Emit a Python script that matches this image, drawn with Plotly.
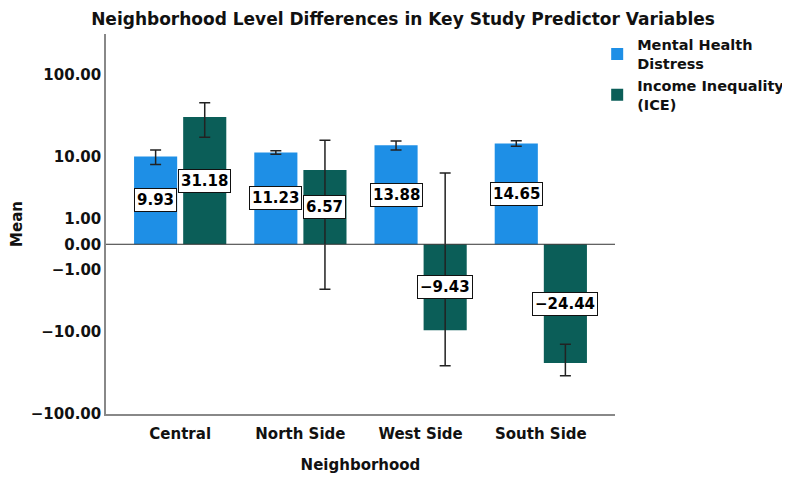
import numpy as np
import plotly.graph_objects as go

neighborhoods = ["Central", "North Side", "West Side", "South Side"]

mhd_mean = [9.93, 11.23, 13.88, 14.65]
mhd_low = [7.8, 10.66, 12.05, 13.45]
mhd_high = [12.1, 11.8, 15.7, 15.85]

ice_mean = [31.18, 6.57, -9.43, -24.44]
ice_low = [17.5, -2.4, -26.5, -35.0]
ice_high = [46.5, 16.1, 6.0, -14.3]

tick_values = [-100, -10, -1, 0, 1, 10, 100]
tick_labels = ["\u2212100.00", "\u221210.00", "\u22121.00", "0.00", "1.00", "10.00", "100.00"]

BLUE = "#1E8FE6"
TEAL = "#0B5E58"
FONT = "DejaVu Sans"


def slog(v):
    # SPSS style safe log scale
    v = np.asarray(v, dtype=float)
    return np.sign(v) * np.log10(np.abs(v) + 1)


def err(mean, low, high):
    return dict(type="data", symmetric=False,
                array=slog(high) - slog(mean),
                arrayminus=slog(mean) - slog(low),
                color="#222222", thickness=1.5, width=5.5)


fig = go.Figure()
fig.add_trace(go.Bar(x=neighborhoods, y=slog(mhd_mean), name="Mental Health<br>Distress",
                     marker=dict(color=BLUE, line=dict(width=0)),
                     error_y=err(mhd_mean, mhd_low, mhd_high)))
fig.add_trace(go.Bar(x=neighborhoods, y=slog(ice_mean), name="Income Inequality<br>(ICE)",
                     marker=dict(color=TEAL, line=dict(width=0)),
                     error_y=err(ice_mean, ice_low, ice_high)))

# value labels in the middle of each bar
for i in range(len(neighborhoods)):
    for off, vals in [(-0.204, mhd_mean), (0.2, ice_mean)]:
        txt = ("%.2f" % vals[i]).replace("-", "\u2212")
        fig.add_annotation(x=i + off, y=float(slog(vals[i])) / 2, xref="x", yref="y",
                           text=txt, showarrow=False,
                           font=dict(family=FONT, size=15, color="black", weight="bold"),
                           bgcolor="white", bordercolor="#111111", borderwidth=1, borderpad=2)

fig.add_hline(y=0, line=dict(color="#333333", width=1))

# page body has an 8px margin, so the margins are shifted by that much
fig.update_layout(
    width=790, height=478,
    margin=dict(l=98, r=183, t=26, b=72, autoexpand=False),
    paper_bgcolor="white", plot_bgcolor="white",
    barmode="group", bargap=0.183, bargroupgap=0.122,
    title=dict(text="Neighborhood Level Differences in Key Study Predictor Variables",
               x=0.5, xanchor="center", y=0.977, yanchor="middle",
               font=dict(family=FONT, size=17, color="#111111", weight="bold")),
    font=dict(family=FONT, color="#111111"),
    legend=dict(x=0.965, xanchor="left", y=1.014, yanchor="top",
                font=dict(family=FONT, size=14.5, color="#111111", weight="bold"),
                bgcolor="rgba(0,0,0,0)", tracegroupgap=0, itemwidth=30),
    showlegend=True,
)
fig.update_xaxes(range=[-0.617, 3.617], showline=True, linecolor="#888888", linewidth=1.5,
                 ticks="outside", ticklen=5, tickcolor="rgba(0,0,0,0)", showgrid=False,
                 tickfont=dict(family=FONT, size=15, color="#111111", weight="bold"),
                 title=dict(text="Neighborhood", standoff=18,
                            font=dict(family=FONT, size=15, color="#111111", weight="bold")))
fig.update_yaxes(range=[-2.01, 2.49], showline=True, linecolor="#888888", linewidth=1.5,
                 ticks="", showgrid=False, zeroline=False,
                 tickvals=slog(tick_values), ticktext=tick_labels,
                 tickfont=dict(family=FONT, size=15, color="#111111", weight="bold"),
                 title=dict(text="Mean", standoff=11,
                            font=dict(family=FONT, size=15, color="#111111", weight="bold")))

fig.write_html("out.html")
